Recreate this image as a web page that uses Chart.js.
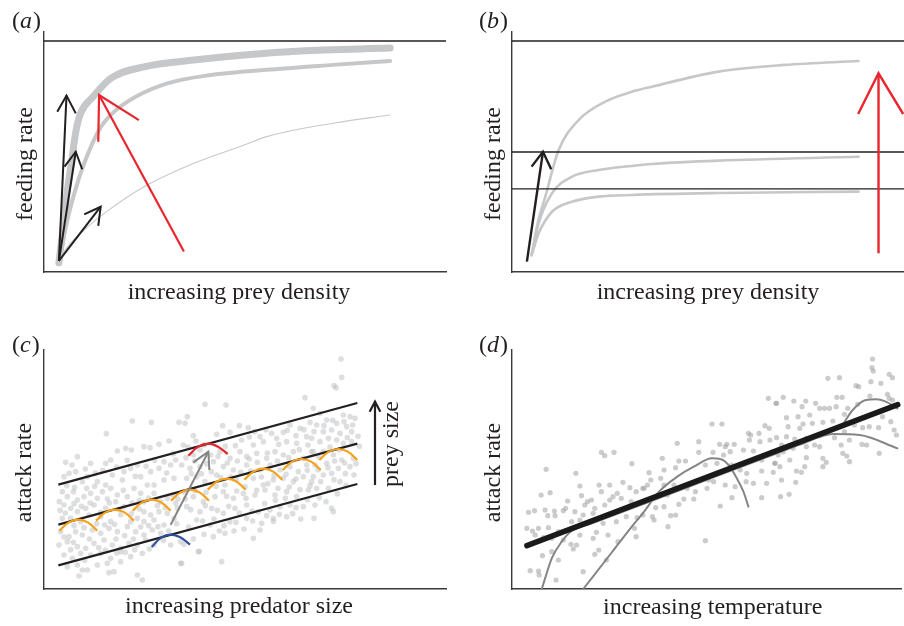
<!DOCTYPE html>
<html><head><meta charset="utf-8">
<script src="https://cdn.jsdelivr.net/npm/chart.js@4/dist/chart.umd.min.js"></script>
<style>
html,body{margin:0;padding:0;background:#fff;}
#wrap{position:relative;width:904px;height:626px;overflow:hidden;}
canvas{position:absolute;}
</style></head><body>
<div id="wrap">
<canvas id="ca" width="452" height="313" style="left:0;top:0"></canvas>
<canvas id="cb" width="452" height="313" style="left:452px;top:0"></canvas>
<canvas id="cc" width="452" height="313" style="left:0;top:313px"></canvas>
<canvas id="cd" width="452" height="313" style="left:452px;top:313px"></canvas>
</div>
<script>
// ---------------- Panel (a): functional responses ----------------
const aXTitle = 'increasing prey density  ';
const aYTitle = 'feeding rate    ';
const aMaxRate = 96.25;
const aCurveThick = [[3.7,3.8],[4.7,17.5],[5.6,31.4],[6.8,45.3],[8.0,59.2],[9.1,66.1],[12.2,73.0],[16.6,80.7],[24.9,85.5],[37.3,88.3],[49.8,90.4],[63.7,92.1],[86.1,93.3]];
const aCurveMid = [[3.7,3.8],[4.6,12.0],[5.6,20.0],[7.3,31.4],[10.0,45.3],[13.7,59.2],[17.0,66.1],[22.8,73.0],[30.7,78.6],[41.5,82.1],[49.8,83.5],[71.9,86.3],[86.1,87.9]];
const aCurveThin = [[3.7,3.8],[5.0,8.5],[10.0,17.5],[14.5,23.8],[24.9,35.5],[37.3,45.3],[49.8,52.9],[55.4,56.4],[72.0,62.0],[86.1,65.4]];
// arrows: [tail, tip, barb1, barb2]
const aBlackArrow1 = [[3.7,4.6],[5.6,73.5],[3.3,66.8],[7.9,66.1]];
const aBlackArrow2 = [[3.7,4.6],[7.9,50.1],[5.1,43.9],[9.5,42.8]];
const aBlackArrow3 = [[3.7,4.6],[14.1,27.2],[10.0,24.0],[13.5,19.2]];
const aRedArrow = [[34.8,8.5],[13.7,73.75],[13.5,54.3],[23.6,63.3]];

// ---------------- Panel (b) ----------------
const bXTitle = 'increasing prey density';
const bYTitle = 'feeding rate    ';
const bLevels = [96.25, 50.0, 34.6];
const bCurveHigh = [[5.0,7.0],[6.5,20.0],[8.5,31.4],[11.9,50.8],[17.0,63.3],[23.8,71.0],[30.6,75.1],[35.7,77.2],[52.7,83.5],[69.6,86.3],[88.4,87.9]];
const bCurveMid = [[5.0,7.0],[6.8,20.3],[10.2,32.8],[15.3,39.7],[22.1,42.5],[30.6,44.2],[35.7,45.0],[52.7,46.4],[88.4,48.0]];
const bCurveLow = [[5.0,7.0],[6.8,16.1],[10.2,25.1],[15.3,29.3],[22.1,31.4],[30.6,32.1],[52.7,32.9],[88.4,33.5]];
const bBlackArrow = [[3.8,4.3],[7.9,50.1],[5.0,43.9],[10.0,42.8]];
const bRedArrow = [[93.5,7.8],[93.5,82.8],[88.3,65.8],[99.8,65.8]];

// ---------------- Panel (c) ----------------
const cXTitle = 'increasing predator size  ';
const cYTitle = 'attack rate ';
const cSideLabel = 'prey size';
const cLineTop = [[4.3,31.3],[94.0,55.8]];
const cLineMid = [[4.3,19.3],[94.0,43.6]];
const cLineLow = [[4.3,7.1],[94.0,31.5]];
const cOrangeArcs = [
 [[4.6,17.5],[7.45,20.0],[10.3,20.8],[13.15,20.0],[16.0,17.5]],
 [[15.6,20.5],[18.45,23.0],[21.3,23.8],[24.15,23.0],[27.0,20.5]],
 [[26.6,23.5],[29.45,26.0],[32.3,26.8],[35.15,26.0],[38.0,23.5]],
 [[38.1,26.5],[40.95,29.0],[43.8,29.8],[46.65,29.0],[49.5,26.5]],
 [[49.1,29.8],[51.95,32.3],[54.8,33.1],[57.65,32.3],[60.5,29.8]],
 [[60.1,32.8],[62.95,35.3],[65.8,36.1],[68.65,35.3],[71.5,32.8]],
 [[71.6,35.7],[74.45,38.2],[77.3,39.0],[80.15,38.2],[83.0,35.7]],
 [[82.6,38.7],[85.45,41.2],[88.3,42.0],[91.15,41.2],[94.0,38.7]]
];
const cRedArc = [[43.3,40.0],[46.3,42.7],[49.3,43.6],[52.2,42.7],[55.1,40.5]];
const cBlueArc = [[32.3,12.6],[35.15,15.4],[38.0,16.3],[40.9,15.5],[43.8,13.3]];
const cGrayArrow = [[38.0,19.3],[49.3,41.2],[44.8,38.0],[49.6,35.7]];
const cPreyArrow = [[99.3,31.2],[99.3,56.2],[97.7,53.2],[100.9,53.2]];
const cSideLabelPos = [104.4,43.5];
const cDots = [[26.5,50.4],[32.2,50.0],[18.7,46.6],[40.5,50.0],[22.0,41.4],[24.5,42.2],[26.2,41.7],[30.0,42.7],[31.8,42.4],[34.5,43.4],[37.5,44.4],[6.5,38.0],[10.0,39.7],[14.0,37.7],[18.5,37.7],[20.0,38.7],[9.5,35.2],[7.5,34.7],[6.0,33.7],[11.5,32.2],[13.0,33.7],[16.0,32.2],[18.5,31.2],[20.5,34.2],[24.0,35.2],[26.0,36.2],[28.0,37.2],[23.5,32.7],[29.0,33.7],[32.0,35.2],[34.5,36.2],[36.0,38.2],[38.0,37.2],[39.5,38.7],[31.0,31.2],[33.0,31.2],[36.0,32.7],[39.0,33.2],[5.5,29.2],[7.0,27.7],[8.8,29.2],[10.0,26.7],[12.0,27.7],[14.0,28.7],[16.0,27.2],[17.5,29.2],[20.0,30.2],[22.0,28.2],[25.0,27.7],[27.0,30.2],[29.0,28.7],[30.0,26.2],[33.0,28.7],[35.0,26.2],[37.0,27.2],[39.5,25.7],[6.0,25.2],[8.0,24.2],[10.0,23.2],[12.5,24.2],[15.0,25.2],[18.5,24.2],[21.5,26.2],[24.0,24.7],[30.0,23.2],[32.0,22.2],[34.5,23.2],[37.0,22.7],[40.0,24.2],[5.5,21.2],[8.0,21.2],[11.0,20.2],[13.5,22.2],[17.0,21.7],[20.0,20.2],[23.0,22.2],[26.0,20.2],[28.0,21.2],[30.0,20.2],[33.0,20.7],[36.0,19.2],[39.0,21.2],[5.0,17.2],[7.5,15.7],[9.5,17.2],[11.5,16.2],[14.5,17.7],[17.0,16.7],[19.5,18.2],[22.0,17.2],[25.0,18.7],[27.5,17.2],[30.0,16.2],[32.5,17.7],[35.0,16.7],[4.5,13.2],[7.0,14.2],[10.0,12.7],[12.5,12.2],[15.0,13.7],[18.0,14.7],[20.5,13.2],[23.0,12.2],[25.5,13.7],[28.0,13.2],[30.5,14.7],[33.0,13.2],[38.0,13.2],[41.0,14.2],[6.0,10.2],[8.5,9.2],[11.0,10.7],[14.0,10.2],[17.0,10.7],[20.0,9.2],[23.0,11.2],[26.0,9.7],[29.5,10.7],[7.0,6.7],[10.0,7.2],[13.0,5.7],[16.0,7.2],[19.0,7.7],[23.0,8.2],[11.5,5.7],[10.5,3.9],[19.5,4.9],[21.0,5.2],[28.0,4.2],[29.5,2.7],[41.0,7.7],
[78.3,57.4],[48.3,55.4],[54.6,55.2],[42.3,49.7],[43.0,51.7],[53.6,49.0],[58.6,49.0],[44.8,46.0],[51.8,46.4],[55.8,47.0],[61.3,48.4],[64.8,45.7],[68.3,46.7],[71.8,47.0],[73.8,49.2],[76.8,48.2],[79.8,50.0],[59.3,44.7],[62.8,43.2],[65.8,44.2],[69.8,45.2],[72.8,44.2],[75.8,43.7],[78.8,45.7],[41.8,43.2],[44.8,40.2],[46.8,41.7],[52.8,41.2],[55.8,39.2],[58.8,41.2],[60.8,39.7],[63.8,40.7],[66.8,39.2],[69.3,41.2],[71.8,40.2],[74.8,41.2],[77.8,39.2],[80.3,41.2],[41.3,37.2],[43.8,36.2],[46.8,36.7],[50.8,38.2],[53.8,36.7],[56.8,35.7],[60.8,37.2],[64.8,35.7],[67.8,37.2],[70.8,35.7],[73.8,36.7],[76.3,35.2],[78.8,37.2],[42.8,33.2],[45.8,33.7],[48.3,32.2],[51.8,34.2],[54.3,31.2],[57.8,32.7],[60.3,30.7],[62.8,33.2],[65.8,31.2],[68.8,32.7],[71.8,33.2],[74.8,32.2],[77.8,33.7],[80.3,32.2],[41.8,29.2],[44.8,27.7],[47.8,26.2],[51.3,27.7],[53.8,29.2],[56.8,27.2],[59.8,28.7],[63.3,28.2],[66.3,29.7],[69.3,28.2],[72.8,29.2],[75.8,27.7],[79.3,29.7],[42.8,24.7],[46.8,23.2],[50.3,24.2],[53.8,22.7],[57.3,24.2],[60.8,25.2],[64.3,23.2],[67.8,23.7],[70.8,24.7],[73.8,25.2],[77.8,24.7],[45.8,20.7],[49.8,19.2],[55.8,20.2],[60.8,21.2],[65.3,19.7],[68.8,21.2],[72.8,21.7],[50.8,15.7],[54.3,16.7],[46.3,11.2],[53.3,8.2],[41.3,7.7],[64.8,17.7],[62.8,15.2],[68.8,20.3],[46.6,11.3],
[89.1,69.0],[89.3,63.5],[87.0,61.0],[87.6,60.4],[80.8,54.2],[82.8,52.7],[89.8,52.2],[91.8,51.7],[93.3,51.2],[84.8,50.7],[87.8,49.7],[90.8,48.7],[81.8,49.2],[83.8,47.2],[86.3,47.7],[88.8,46.7],[92.3,47.2],[80.3,45.2],[82.8,44.2],[85.3,45.2],[87.8,44.7],[89.8,43.7],[92.3,44.2],[80.8,41.2],[83.8,41.2],[86.8,40.2],[89.3,38.7],[92.8,39.2],[81.3,37.2],[84.8,37.7],[88.3,36.2],[91.8,36.7],[80.8,33.7],[83.8,34.2],[86.3,34.7],[88.8,32.2],[81.8,30.2],[85.3,30.2],[81.3,25.2],[86.3,24.2],[86.8,23.2],[81.0,21.2],
[6.8,31.0],[9.2,30.5],[12.8,30.2],[15.2,30.8],[19.0,27.0],[23.8,29.6],[26.4,25.8],[28.6,24.0],[31.4,27.3],[34.0,25.0],[36.4,24.4],[38.6,28.2],[40.2,27.0],[9.0,19.0],[12.0,18.4],[15.8,19.6],[18.2,19.2],[21.2,19.4],[24.2,16.0],[26.8,15.0],[29.0,18.6],[31.4,19.0],[34.2,18.7],[37.4,17.4],[39.8,19.6],[6.0,15.6],[8.8,14.0],[13.6,15.0],[16.4,12.4],[21.6,15.0],[24.4,11.0],[27.2,11.8],[31.6,12.0],[35.8,14.6],[8.0,11.8],[12.2,8.6],[18.4,11.6],[21.8,10.8],[4.6,26.2],[4.8,23.6],[6.4,22.8],[9.0,25.6],[11.2,24.8],[13.8,25.8],[17.0,23.0],[19.6,25.8],[22.6,23.8],[26.2,22.6],[28.6,26.6],[15.4,34.8],[17.6,35.6],[21.8,36.6],[25.0,38.6],[27.4,33.8],[30.6,36.8],[33.2,38.6],[36.8,34.8],[38.8,40.6],[12.4,36.0],[8.4,37.2],
[43.2,42.6],[45.6,44.4],[48.0,43.2],[50.0,40.2],[54.4,42.8],[57.4,43.0],[61.6,45.6],[63.2,47.2],[66.6,47.8],[70.4,43.4],[73.0,47.6],[75.6,46.0],[78.0,47.8],[81.0,47.2],[84.0,49.0],[86.6,50.6],[90.0,50.2],[92.6,49.2],[94.2,45.8],[94.6,42.8],[91.0,45.4],[88.6,41.8],[85.8,42.6],[82.4,39.6],[79.2,43.2],[76.6,41.8],[73.4,39.4],[70.0,38.4],[67.0,40.8],[64.0,38.0],[61.6,39.0],[58.0,38.4],[55.0,37.8],[52.2,39.8],[48.8,37.6],[45.2,38.4],[42.6,39.4],[44.2,34.6],[47.2,34.6],[50.2,35.2],[53.0,33.4],[56.0,33.6],[59.0,35.0],[62.0,35.4],[65.2,33.6],[69.0,34.0],[72.6,34.4],[75.6,33.0],[79.0,35.6],[82.2,35.8],[85.2,36.4],[87.2,38.4],[90.2,37.8],[93.6,37.6],[93.0,34.2],[90.4,34.6],[87.0,32.8],[83.0,32.2],[79.8,31.0],[76.8,29.8],[73.6,30.6],[70.2,30.2],[67.2,31.6],[63.8,29.6],[60.6,27.2],[57.8,29.4],[54.8,27.8],[51.6,30.8],[48.6,29.0],[45.4,29.4],[42.4,27.0],[44.0,23.8],[48.4,25.0],[52.0,23.6],[55.4,24.8],[58.6,22.8],[62.4,23.4],[66.2,25.6],[69.4,26.6],[72.4,27.2],[75.6,24.4],[79.0,26.8],[82.6,27.4],[84.6,26.2],[88.0,28.6],[90.6,31.0],[43.4,18.6],[47.6,20.4],[51.0,21.0],[54.0,19.0],[57.6,20.0],[62.6,20.4],[66.8,22.0],[70.6,22.4],[74.6,22.6],[77.0,21.0],[48.0,16.4],[52.6,17.4],[57.0,17.4],[60.0,18.0],[44.8,15.0],[42.0,13.4]];

// ---------------- Panel (d) ----------------
const dXTitle = '  increasing temperature';
const dYTitle = 'attack rate ';
const dTrend = [[4.5,13.0],[116.5,55.3]];
const dCurveA = [[9.0,0],[10.0,3.2],[12.0,9.2],[15.0,14.2],[18.0,17.4],[24.0,19.6],[40.0,25.6],[60.0,33.2],[80.0,40.7],[87.0,43.3],[96.9,46.5],[105.0,46.2],[116.4,42.2]];
const dCurveB = [[21.5,0],[30.0,10.8],[36.0,18.5],[39.9,23.2],[44.4,29.2],[49.9,33.7],[54.9,36.7],[60.4,39.2],[62.9,39.0],[65.4,37.2],[67.9,33.2],[69.9,29.2],[71.4,24.7]];
const dCurveC = [[99.4,48.5],[102.9,53.7],[106.9,56.7],[109.9,56.9],[112.9,56.2],[116.4,54.2]];
const dDots = [[27.0,41.0],[28.0,40.0],[30.8,41.0],[10.3,35.9],[19.3,34.7],[36.2,37.6],[11.5,28.9],[8.8,28.2],[20.5,30.9],[26.3,31.2],[29.5,31.2],[33.5,32.0],[35.6,30.4],[27.0,29.2],[31.8,28.7],[21.0,28.0],[24.0,26.7],[22.8,26.2],[16.8,26.4],[30.5,27.7],[33.0,27.2],[37.5,29.2],[39.5,30.2],[5.0,23.0],[6.8,23.5],[10.0,23.7],[12.8,23.4],[16.2,24.2],[19.0,23.2],[22.0,25.2],[25.0,24.2],[28.0,25.2],[10.8,22.0],[13.0,22.0],[15.5,23.5],[21.5,22.2],[24.5,22.7],[18.0,20.2],[20.5,20.7],[27.5,19.7],[31.5,20.2],[34.5,21.7],[37.8,21.4],[39.5,22.2],[4.5,18.2],[6.2,17.4],[8.0,18.2],[11.0,18.4],[14.0,17.2],[7.0,16.2],[9.5,15.4],[12.0,15.2],[15.5,14.7],[17.8,13.4],[19.5,13.2],[20.5,16.2],[24.5,15.2],[25.5,17.0],[29.0,16.2],[32.0,14.2],[37.0,18.2],[37.5,15.7],[18.5,12.0],[25.0,10.4],[26.2,11.7],[12.0,11.2],[9.2,10.0],[14.0,8.7],[28.5,8.7],[5.5,5.5],[8.0,5.4],[8.2,4.2],[21.5,5.2],[13.3,2.7],[34.3,24.2],[36.0,26.2],[29.5,26.7],
[77.4,57.2],[79.7,55.7],[60.4,49.5],[63.4,49.5],[76.4,49.0],[77.7,48.2],[71.4,46.7],[72.1,46.2],[74.6,46.7],[49.9,43.7],[56.4,44.2],[62.7,43.4],[64.9,43.4],[67.1,43.4],[64.4,42.7],[71.7,44.7],[74.9,44.2],[77.9,44.7],[45.4,39.2],[50.4,38.4],[52.4,38.4],[56.4,41.0],[60.7,41.0],[63.9,40.2],[65.9,41.2],[69.9,41.7],[72.9,41.4],[75.4,38.7],[79.4,37.7],[41.4,34.9],[45.9,35.7],[49.4,36.4],[58.4,37.2],[61.9,37.7],[66.4,37.2],[68.9,35.7],[70.9,34.7],[75.4,35.4],[78.9,35.0],[41.9,32.7],[44.9,33.2],[45.9,31.2],[48.9,31.2],[52.9,30.2],[55.4,29.2],[59.4,32.7],[60.9,32.2],[64.4,31.2],[67.4,30.7],[70.7,32.2],[72.9,31.7],[76.9,31.7],[39.9,30.2],[40.9,31.2],[43.9,27.7],[46.9,28.2],[51.9,27.0],[54.9,27.0],[58.9,30.2],[66.4,27.4],[75.4,27.4],[39.9,26.2],[43.4,24.4],[45.9,24.7],[50.4,25.4],[62.9,24.9],[42.4,21.7],[47.9,22.0],[49.4,22.2],[42.9,20.7],[47.1,18.7],[58.4,14.5],
[108.9,69.0],[108.7,66.4],[109.1,65.4],[113.9,64.4],[114.9,63.4],[95.4,63.2],[98.9,63.4],[103.9,61.0],[104.7,60.7],[108.4,62.2],[111.4,61.7],[81.9,57.5],[79.9,55.7],[85.1,56.4],[88.7,56.4],[87.6,54.7],[91.7,55.7],[92.9,54.2],[94.4,54.2],[95.9,54.2],[98.1,57.5],[99.7,57.5],[108.1,57.9],[113.4,58.4],[113.9,57.2],[114.9,56.7],[97.9,54.7],[101.4,54.2],[104.4,55.4],[82.9,51.4],[86.4,51.7],[89.9,52.2],[90.7,49.7],[87.9,49.5],[83.4,48.7],[86.9,48.2],[93.9,50.0],[96.9,50.4],[100.4,52.4],[103.4,49.2],[105.9,48.4],[107.9,48.7],[110.7,48.4],[111.9,51.7],[114.4,50.2],[115.4,47.7],[116.1,46.2],[79.9,45.4],[82.9,45.7],[85.4,45.0],[88.9,45.2],[92.9,46.0],[97.4,45.4],[100.4,47.2],[101.9,44.7],[105.7,43.4],[107.1,43.2],[81.4,43.2],[84.9,42.2],[88.9,42.7],[91.4,43.2],[92.9,42.7],[99.4,43.2],[99.9,40.7],[101.1,39.9],[101.9,38.2],[78.9,41.2],[81.9,41.2],[80.4,40.2],[83.9,38.7],[88.9,39.4],[93.9,39.2],[94.9,38.0],[110.9,40.7],[79.4,37.7],[80.9,36.7],[85.9,35.4],[87.4,35.0],[88.4,36.7],[93.9,36.7],[81.4,32.7],[85.7,32.0],[81.1,27.7],[83.7,28.4]];

// ---------------- drawing helpers ----------------
const FONT = '"Liberation Serif", "Times New Roman", serif';
const INK = '#231f20';
const GREY_CURVE = '#c6c7c9';
const RED = '#e8262d';
const P = arr => arr.map(([x, y]) => ({x, y}));

function line(data, color, width, order, extra) {
  return Object.assign({type:'line', data:P(data), borderColor:color, borderWidth:width, pointRadius:0,
    pointHoverRadius:0, fill:false, tension:0, order, clip:false, borderCapStyle:'butt', borderJoinStyle:'miter'}, extra || {});
}
function curve(data, color, width, order) {
  return line(data, color, width, order, {cubicInterpolationMode:'monotone', borderCapStyle:'round', borderJoinStyle:'round'});
}
function arc(data, color, width, order) {
  return line(data, color, width, order, {tension:0.4, borderCapStyle:'butt'});
}
function arrow(a, color, width, order) {
  return [line([a[0], a[1]], color, width, order), line([a[2], a[1], a[3]], color, width, order)];
}
function dots(data, color, r, order) {
  return {type:'scatter', data:P(data), backgroundColor:color, borderWidth:0, pointRadius:r, pointHoverRadius:r, order, clip:false};
}
function level(y, xr, color, width, order) {
  return line([[xr[0], y], [xr[1], y]], color, width, order);
}

const textPlugin = {
  id: 'panelText',
  afterDraw(chart, args, opts) {
    const ctx = chart.ctx;
    ctx.save();
    ctx.fillStyle = INK;
    ctx.textBaseline = 'alphabetic';
    ctx.textAlign = 'left';
    let x = opts.x;
    const y = opts.y;
    ctx.font = '24px ' + FONT;
    ctx.fillText('(', x, y); x += ctx.measureText('(').width;
    ctx.font = 'italic 24px ' + FONT;
    ctx.fillText(opts.letter, x, y); x += ctx.measureText(opts.letter).width + 1;
    ctx.font = '24px ' + FONT;
    ctx.fillText(')', x, y);
    if (opts.side) {
      const px = chart.scales.x.getPixelForValue(opts.side.at[0]);
      const py = chart.scales.y.getPixelForValue(opts.side.at[1]);
      ctx.translate(px, py);
      ctx.rotate(-Math.PI / 2);
      ctx.textAlign = 'center';
      ctx.textBaseline = 'middle';
      ctx.font = '24px ' + FONT;
      ctx.fillText(opts.side.text, 0, 0);
    }
    ctx.restore();
  }
};

function makeChart(id, datasets, c) {
  const title = (text, pad) => ({display:true, text, color:INK, font:{family:FONT, size:24, lineHeight:1}, padding:pad});
  const common = {type:'linear', grid:{display:false, drawTicks:false}, ticks:{display:false},
                  border:{display:true, color:'#3a3a3a', width:1.4}};
  return new Chart(document.getElementById(id), {
    type:'scatter',
    data:{datasets},
    options:{
      responsive:false, animation:false, devicePixelRatio:1,
      events:[],
      layout:{padding:{top:c.padTop, right:c.padRight, left:0, bottom:0}},
      plugins:{legend:{display:false}, tooltip:{enabled:false}, panelText:c.label},
      scales:{
        x:Object.assign({}, common, {min:c.xr[0], max:c.xr[1], title:title(c.xTitle, c.xPad)}),
        y:Object.assign({}, common, {min:c.yr[0], max:c.yr[1], title:title(c.yTitle, c.yPad)})
      }
    },
    plugins:[textPlugin]
  });
}

// ---------------- panel (a) ----------------
const aXR = [0, 100], aYR = [0, 100];
makeChart('ca', [
  ...arrow(aRedArrow, RED, 2.2, 1),
  ...arrow(aBlackArrow1, INK, 2, 2),
  ...arrow(aBlackArrow2, INK, 2, 2),
  ...arrow(aBlackArrow3, INK, 2, 2),
  level(aMaxRate, aXR, INK, 1.3, 3),
  curve(aCurveThin, '#c9c9c9', 1.1, 6),
  curve(aCurveMid, GREY_CURVE, 4, 6),
  curve(aCurveThick, GREY_CURVE, 7, 7)
], {xr:aXR, yr:aYR, xTitle:aXTitle, yTitle:aYTitle, padTop:32, padRight:6,
    xPad:{top:9, bottom:8}, yPad:{top:14, bottom:6}, label:{letter:'a', x:12, y:28}});

// ---------------- panel (b) ----------------
const bXR = [0, 100], bYR = [0, 100];
makeChart('cb', [
  ...arrow(bRedArrow, RED, 2.4, 1),
  ...arrow(bBlackArrow, INK, 2.4, 2),
  ...bLevels.map(v => level(v, bXR, INK, 1.3, 3)),
  curve(bCurveHigh, GREY_CURVE, 2.6, 6),
  curve(bCurveMid, GREY_CURVE, 2.6, 6),
  curve(bCurveLow, GREY_CURVE, 2.6, 6)
], {xr:bXR, yr:bYR, xTitle:bXTitle, yTitle:bYTitle, padTop:32, padRight:0,
    xPad:{top:9, bottom:8}, yPad:{top:30, bottom:6}, label:{letter:'b', x:27, y:28}});

// ---------------- panel (c) ----------------
const cXR = [0, 120.6], cYR = [0, 71.7];
makeChart('cc', [
  ...arrow(cGrayArrow, '#858585', 2, 1),
  ...arrow(cPreyArrow, INK, 2.2, 1),
  arc(cRedArc, RED, 2.2, 2),
  arc(cBlueArc, '#2e4d9b', 2.2, 2),
  ...cOrangeArcs.map(a => arc(a, '#f5a11c', 2.2, 2)),
  line(cLineTop, INK, 2.2, 3),
  line(cLineMid, INK, 2.2, 3),
  line(cLineLow, INK, 2.2, 3),
  dots(cDots, 'rgba(188,190,192,0.5)', 2.8, 10)
], {xr:cXR, yr:cYR, xTitle:cXTitle, yTitle:cYTitle, padTop:37, padRight:6,
    xPad:{top:6, bottom:7}, yPad:{top:13, bottom:7},
    label:{letter:'c', x:12, y:39, side:{text:cSideLabel, at:cSideLabelPos}}});

// ---------------- panel (d) ----------------
const dXR = [0, 117.6], dYR = [0, 71.7];
makeChart('cd', [
  line(dTrend, '#1a1a1a', 5.5, 1, {borderCapStyle:'round'}),
  curve(dCurveA, '#858585', 2, 4),
  curve(dCurveB, '#858585', 2, 4),
  curve(dCurveC, '#858585', 2, 4),
  dots(dDots, 'rgba(160,160,160,0.55)', 2.6, 10)
], {xr:dXR, yr:dYR, xTitle:dXTitle, yTitle:dYTitle, padTop:37, padRight:0,
    xPad:{top:7, bottom:6}, yPad:{top:30, bottom:6}, label:{letter:'d', x:27, y:39}});
</script>
</body></html>
